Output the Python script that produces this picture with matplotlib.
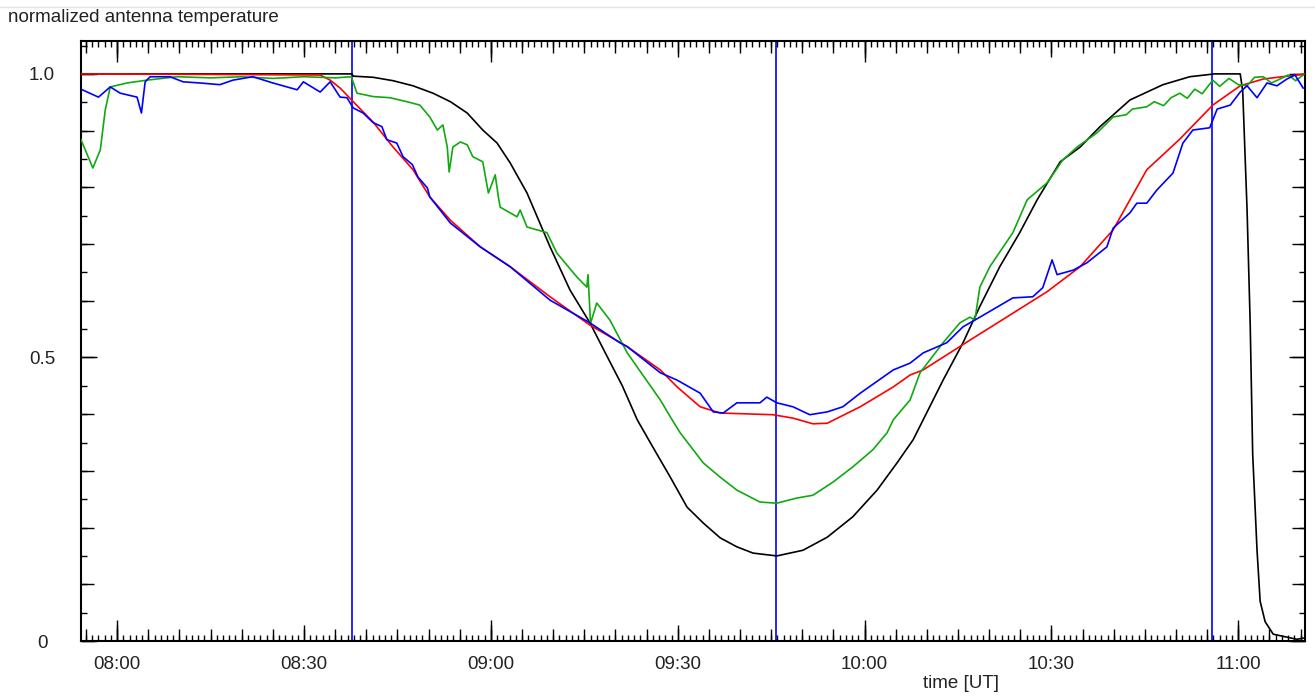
import matplotlib
matplotlib.use("Agg")
import matplotlib.pyplot as plt
from matplotlib.ticker import MultipleLocator, FuncFormatter, NullFormatter
from matplotlib.lines import Line2D

plt.rcParams['font.family'] = ['Liberation Sans', 'DejaVu Sans']

# time in minutes after midnight (UT), values = normalized antenna temperature
t_black = [474.2, 517.7, 517.9, 521.1, 524.3, 527.5, 530.7, 533.5, 536.2, 538.7,
           541.0, 543.1, 545.8, 549.5, 552.7, 555.9, 558.7, 561.1, 563.5, 566.0,
           568.8, 571.5, 574.1, 576.8, 579.5, 582.1, 585.9, 590.1, 594.0, 598.1,
           602.0, 605.2, 607.8, 609.4, 612.6, 615.8, 618.5, 621.7, 624.9, 627.7,
           631.4, 634.6, 637.8, 642.6, 647.9, 652.2, 656.2, 660.3, 660.7, 661.4,
           661.9, 662.3, 663.0, 663.5, 664.3, 665.6, 669.4, 670.4]
v_black = [1.0, 1.0, 0.996, 0.994, 0.988, 0.979, 0.966, 0.951, 0.931, 0.901,
           0.878, 0.843, 0.79, 0.695, 0.619, 0.561, 0.501, 0.45, 0.39, 0.342,
           0.289, 0.236, 0.208, 0.182, 0.166, 0.155, 0.150, 0.160, 0.183, 0.219,
           0.266, 0.314, 0.355, 0.39, 0.46, 0.526, 0.59, 0.66, 0.72, 0.778,
           0.845, 0.871, 0.907, 0.954, 0.981, 0.995, 1.0, 1.0, 0.97, 0.76,
           0.56, 0.33, 0.16, 0.07, 0.034, 0.012, 0.003, 0.005]

t_red = [474.2, 478.9, 512.6, 514.2, 515.8, 517.9, 521.1, 524.3, 527.5, 530.2,
         533.5, 538.3, 543.1, 549.5, 555.9, 561.9, 567.2, 569.9, 573.6, 576.8,
         585.3, 588.5, 591.7, 594.0, 599.3, 604.6, 607.3, 609.4, 616.4, 623.8,
         629.3, 634.6, 639.9, 645.3, 650.6, 655.9, 660.3, 664.0, 669.4, 670.7]
v_red = [1.0, 1.0, 0.998, 0.989, 0.975, 0.951, 0.915, 0.871, 0.831, 0.783,
         0.742, 0.695, 0.66, 0.607, 0.557, 0.519, 0.478, 0.448, 0.413, 0.402,
         0.399, 0.393, 0.383, 0.384, 0.413, 0.448, 0.469, 0.478, 0.527, 0.578,
         0.616, 0.66, 0.725, 0.831, 0.885, 0.945, 0.979, 0.991, 0.998, 1.0]

t_blue = [474.4, 477.0, 478.9, 480.5, 483.2, 483.9, 484.5, 485.3, 488.5, 490.6,
          493.3, 496.5, 498.6, 501.8, 505.0, 508.9, 509.9, 512.6, 514.2, 515.8,
          516.9, 517.9, 519.5, 521.1, 522.5, 523.3, 524.9, 525.9, 527.4, 528.3,
          529.8, 530.2, 533.5, 538.3, 543.1, 549.5, 555.9, 560.7, 561.9, 567.2,
          569.9, 573.6, 575.7, 577.3, 579.5, 583.2, 584.3, 585.9, 588.5, 591.2,
          594.0, 596.5, 599.3, 604.6, 607.3, 609.4, 613.2, 615.8, 618.5, 623.8,
          627.0, 628.6, 630.1, 630.9, 633.5, 635.7, 638.9, 639.9, 642.6, 643.7,
          645.3, 646.9, 649.5, 651.1, 652.7, 655.4, 656.6, 658.7, 660.3, 661.4,
          663.0, 664.6, 666.2, 667.8, 669.1, 670.4]
v_blue = [0.972, 0.959, 0.977, 0.966, 0.959, 0.931, 0.986, 0.995, 0.995, 0.986,
          0.984, 0.981, 0.989, 0.995, 0.984, 0.972, 0.986, 0.968, 0.986, 0.959,
          0.958, 0.94, 0.931, 0.914, 0.907, 0.884, 0.878, 0.854, 0.84, 0.818,
          0.799, 0.783, 0.737, 0.695, 0.66, 0.601, 0.561, 0.526, 0.519, 0.473,
          0.46, 0.437, 0.404, 0.402, 0.42, 0.42, 0.43, 0.42, 0.413, 0.399,
          0.404, 0.413, 0.437, 0.478, 0.49, 0.508, 0.526, 0.554, 0.571, 0.605,
          0.607, 0.623, 0.672, 0.646, 0.654, 0.667, 0.695, 0.728, 0.755, 0.772,
          0.772, 0.795, 0.825, 0.878, 0.901, 0.905, 0.938, 0.945, 0.968, 0.979,
          0.958, 0.984, 0.979, 0.991, 0.998, 0.975]

t_green = [474.2, 476.1, 477.3, 478.1, 478.9, 481.6, 484.8, 489.6, 495.0, 500.0,
           505.0, 510.0, 515.0, 517.6, 518.5, 521.1, 523.8, 526.5, 528.6, 530.2,
           531.4, 532.3, 533.0, 533.3, 533.9, 535.1, 536.2, 537.1, 538.7, 539.6,
           540.7, 541.2, 541.5, 544.2, 544.7, 545.8, 549.0, 550.6, 553.8, 555.4,
           555.6, 556.0, 557.0, 559.1, 561.9, 567.2, 569.1, 570.4, 574.1, 576.8,
           579.5, 583.2, 585.9, 589.1, 591.7, 594.9, 598.1, 601.3, 603.6, 604.6,
           607.3, 608.9, 612.6, 615.3, 616.9, 617.7, 618.5, 620.1, 623.8, 626.1,
           629.3, 631.8, 634.1, 637.3, 639.9, 642.0, 643.0, 645.3, 646.5, 648.0,
           649.2, 650.6, 651.8, 653.0, 654.2, 655.9, 657.0, 658.5, 660.0, 661.4,
           662.6, 664.0, 665.3, 666.7, 668.0, 669.2, 670.4]
v_green = [0.884, 0.834, 0.866, 0.937, 0.977, 0.984, 0.989, 0.995, 0.993, 0.995,
           0.992, 0.995, 0.993, 0.995, 0.966, 0.96, 0.958, 0.951, 0.945, 0.924,
           0.901, 0.91, 0.871, 0.827, 0.871, 0.88, 0.875, 0.854, 0.845, 0.79,
           0.822, 0.783, 0.765, 0.748, 0.76, 0.73, 0.72, 0.684, 0.642, 0.624,
           0.646, 0.56, 0.596, 0.566, 0.508, 0.425, 0.39, 0.367, 0.314, 0.289,
           0.266, 0.245, 0.243, 0.252, 0.257, 0.280, 0.307, 0.337, 0.367, 0.39,
           0.425, 0.473, 0.526, 0.561, 0.571, 0.566, 0.624, 0.66, 0.72, 0.778,
           0.808, 0.848, 0.871, 0.896, 0.924, 0.928, 0.938, 0.942, 0.951, 0.944,
           0.958, 0.966, 0.957, 0.973, 0.965, 0.989, 0.978, 0.992, 0.981, 0.979,
           0.994, 0.995, 0.984, 0.991, 0.998, 0.988, 0.998]

# event markers (first contact, maximum, last contact)
t_events = [517.7, 585.8, 655.8]


def hhmm(v, pos):
    v = int(round(v))
    return "%02d:%02d" % (v // 60, v % 60)


def ylab(v, pos):
    if abs(v) < 1e-9:
        return "0"
    return "%.1f" % v


fig = plt.figure(figsize=(13.15, 6.96), dpi=100)
ax = fig.add_axes([81 / 1315, 1 - 641 / 696, 1224 / 1315, 600 / 696])

for te in t_events:
    ax.axvline(te, color='#0000ff', lw=1.2, zorder=1)

ax.plot(t_black, v_black, color='black', lw=1.2, zorder=2)
ax.plot(t_red, v_red, color='#ff0000', lw=1.2, zorder=3)
ax.plot(t_green, v_green, color='#10aa10', lw=1.2, zorder=3)
ax.plot(t_blue, v_blue, color='#0000ff', lw=1.2, zorder=4)

ax.set_xlim(474.2, 670.7)
ax.set_ylim(0, 1.058)

ax.xaxis.set_major_locator(MultipleLocator(30))
ax.xaxis.set_major_formatter(FuncFormatter(hhmm))
ax.xaxis.set_minor_locator(MultipleLocator(1))
ax.yaxis.set_major_locator(MultipleLocator(0.5))
ax.yaxis.set_major_formatter(FuncFormatter(ylab))
ax.yaxis.set_minor_locator(MultipleLocator(0.05))

ax.tick_params(which='both', direction='in', top=True, right=True,
               width=1, color='black', labelsize=13.5, labelcolor='#222222')
ax.tick_params(which='major', length=11.5)
ax.tick_params(which='minor', length=4.5)
ax.tick_params(axis='x', which='major', pad=11)
ax.tick_params(axis='y', which='major', pad=28)
for lab in ax.get_yticklabels():
    lab.set_ha('center')

for s in ax.spines.values():
    s.set_linewidth(1.5)

# extra tick levels: 5 min and 60 min on x, 0.1 on y
for side in ['bottom', 'top']:
    for step, ln in [(5, 8.6), (60, 15)]:
        sec = ax.secondary_xaxis(side)
        sec.xaxis.set_major_locator(MultipleLocator(step))
        sec.xaxis.set_major_formatter(NullFormatter())
        sec.tick_params(direction='in', length=ln, width=1, color='black')
        sec.spines[side].set_visible(False)
for side in ['left', 'right']:
    sec = ax.secondary_yaxis(side)
    sec.yaxis.set_major_locator(MultipleLocator(0.1))
    sec.yaxis.set_major_formatter(NullFormatter())
    sec.tick_params(direction='in', length=9.4, width=1, color='black')
    sec.spines[side].set_visible(False)

fig.text(8 / 1315, 1 - 18 / 696, 'normalized antenna temperature',
         fontsize=13.5, va='center', ha='left', color='#222222')
fig.text(961 / 1315, 1 - 683 / 696, 'time [UT]', fontsize=13.5,
         va='center', ha='center', color='#222222')
fig.add_artist(Line2D([0, 1], [1 - 7 / 696] * 2, color='#e4e4e4', lw=1,
                      transform=fig.transFigure))

fig.savefig('out.png', dpi=100)
